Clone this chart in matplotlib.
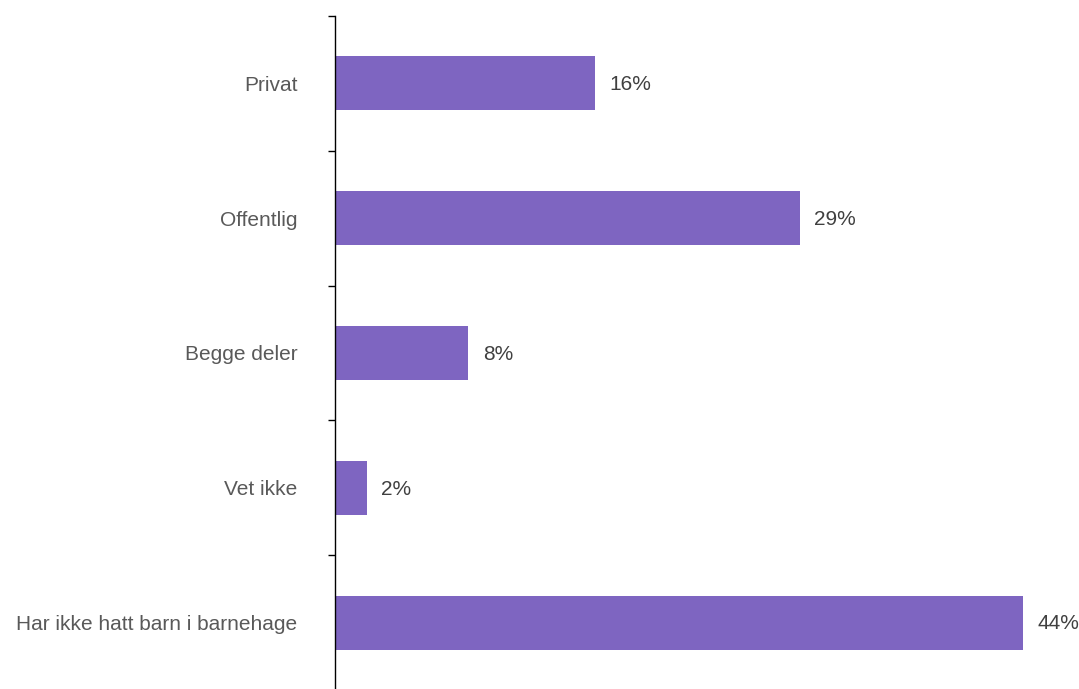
import numpy as np
import matplotlib.pyplot as plt
from matplotlib.ticker import FixedLocator

# --- Data ---
categories = ["Privat", "Offentlig", "Begge deler", "Vet ikke", "Har ikke hatt barn i barnehage"]
values = [16.45, 29.45, 8.45, 2.0, 43.6]
value_labels = ["16%", "29%", "8%", "2%", "44%"]

BAR_COLOR = "#7E65C1"
CAT_COLOR = "#595959"
VAL_COLOR = "#404040"

plt.rcParams['font.family'] = ['Liberation Sans', 'DejaVu Sans']

fig = plt.figure(figsize=(10.79, 6.89), dpi=100)
ax = fig.add_axes([335 / 1079, -1 / 689, 1 - 335 / 1079, (689 - 15) / 689])

y = np.arange(len(categories))
ax.barh(y, values, height=0.4, color=BAR_COLOR)

for yi, v, lab in zip(y, values, value_labels):
    ax.annotate(lab, xy=(v, yi), xytext=(10.5, -1), textcoords="offset points",
                va="center", ha="left", fontsize=15, color=VAL_COLOR)

ax.set_ylim(len(categories) - 0.5, -0.5)
ax.set_xlim(0, (1079 - 335) / 15.78)

ax.set_yticks(y)
ax.set_yticklabels(categories, fontsize=15, color=CAT_COLOR)
ax.tick_params(axis='y', which='major', length=0, pad=27)
ax.yaxis.set_minor_locator(FixedLocator(np.arange(-0.5, len(categories) - 0.5, 1.0)))
ax.tick_params(axis='y', which='minor', length=5, width=1, color="#000000")

ax.set_xticks([])
for side in ["top", "right", "bottom"]:
    ax.spines[side].set_visible(False)
ax.spines["left"].set_color("#000000")
ax.spines["left"].set_linewidth(1)

fig.savefig("out.png", dpi=100)
